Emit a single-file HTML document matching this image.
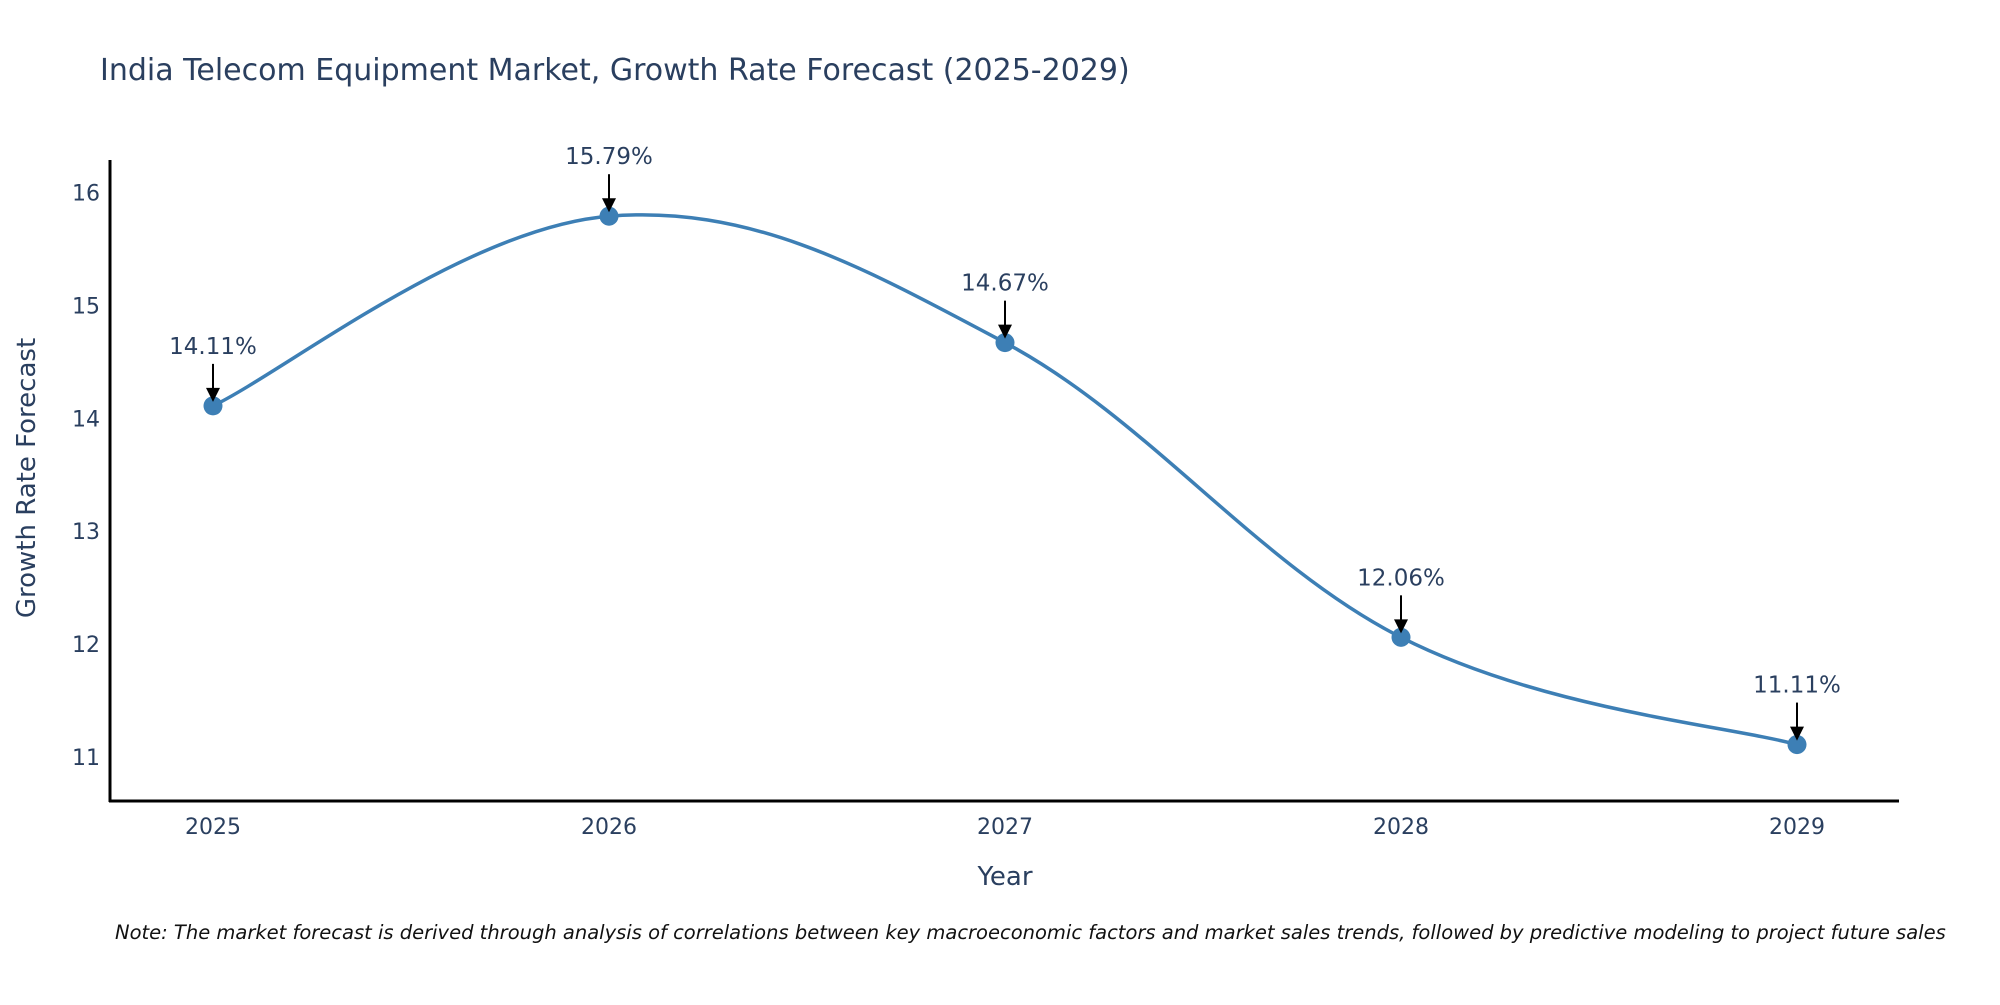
<!DOCTYPE html>
<html><head><meta charset="utf-8"><style>
body{margin:0;background:#fff}
svg text{font-family:"DejaVu Sans","Liberation Sans",sans-serif;fill:#2a3f5f}
</style></head><body>
<svg id="chart" width="2000" height="1000" xmlns="http://www.w3.org/2000/svg">
<text x="100" y="80" font-size="30">India Telecom Equipment Market, Growth Rate Forecast (2025-2029)</text>
<g id="axes"></g>
<g id="series"></g>
<g id="annots"></g>
<text x="1005" y="885" font-size="26" text-anchor="middle">Year</text>
<text transform="translate(35,478) rotate(-90)" font-size="26" text-anchor="middle">Growth Rate Forecast</text>
<text x="115" y="939" font-size="19.5" font-style="italic" style="fill:#111">Note: The market forecast is derived through analysis of correlations between key macroeconomic factors and market sales trends, followed by predictive modeling to project future sales</text>
</svg>
<script>
const years=["2025","2026","2027","2028","2029"];
const values=[14.11,15.79,14.67,12.06,11.11];
const labels=["14.11%","15.79%","14.67%","12.06%","11.11%"];
const yTicks=[11,12,13,14,15,16];
const NS="http://www.w3.org/2000/svg";
const xs=i=>213+i*396;
const ys=v=>192.5+(16-v)*112.9;
function mk(t,a,p){const e=document.createElementNS(NS,t);for(const k in a)e.setAttribute(k,a[k]);p.appendChild(e);return e;}
const axes=document.getElementById('axes');
const yl=mk('line',{x1:110,y1:160,x2:110,y2:802,stroke:'#000','stroke-width':3},axes);


const xl=mk('line',{x1:109,y1:801,x2:1899,y2:801,stroke:'#000','stroke-width':3},axes);


yTicks.forEach(v=>{const t=mk('text',{x:100,y:ys(v)+8,'font-size':22,'text-anchor':'end'},axes);t.textContent=v;

});
years.forEach((y,i)=>{const t=mk('text',{x:xs(i),y:834,'font-size':22,'text-anchor':'middle'},axes);t.textContent=y;

});
const pts=values.map((v,i)=>[xs(i),ys(v)]);
let d='M'+pts[0][0]+','+pts[0][1];const s=0.18;
for(let i=0;i<pts.length-1;i++){const p0=pts[Math.max(i-1,0)],p1=pts[i],p2=pts[i+1],p3=pts[Math.min(i+2,pts.length-1)];
const c1=[p1[0]+(p2[0]-p0[0])*s,p1[1]+(p2[1]-p0[1])*s],c2=[p2[0]-(p3[0]-p1[0])*s,p2[1]-(p3[1]-p1[1])*s];
d+=` C${c1[0]},${c1[1]} ${c2[0]},${c2[1]} ${p2[0]},${p2[1]}`;}
const ser=document.getElementById('series');
const path=mk('path',{d:d,fill:'none',stroke:'#3d7fb5','stroke-width':3.5},ser);


const an=document.getElementById('annots');
pts.forEach((p,i)=>{const c=mk('circle',{cx:p[0],cy:p[1],r:9.5,fill:'#3d7fb5'},ser);


const l=mk('line',{x1:p[0],y1:p[1]-42,x2:p[0],y2:p[1]-16,stroke:'#000','stroke-width':2},an);


const h=mk('polygon',{points:`${p[0]-7},${p[1]-18} ${p[0]+7},${p[1]-18} ${p[0]},${p[1]-4}`,fill:'#000'},an);


const t=mk('text',{x:p[0],y:p[1]-52,'font-size':23,'text-anchor':'middle'},an);t.textContent=labels[i];

});
</script>
</body></html>
